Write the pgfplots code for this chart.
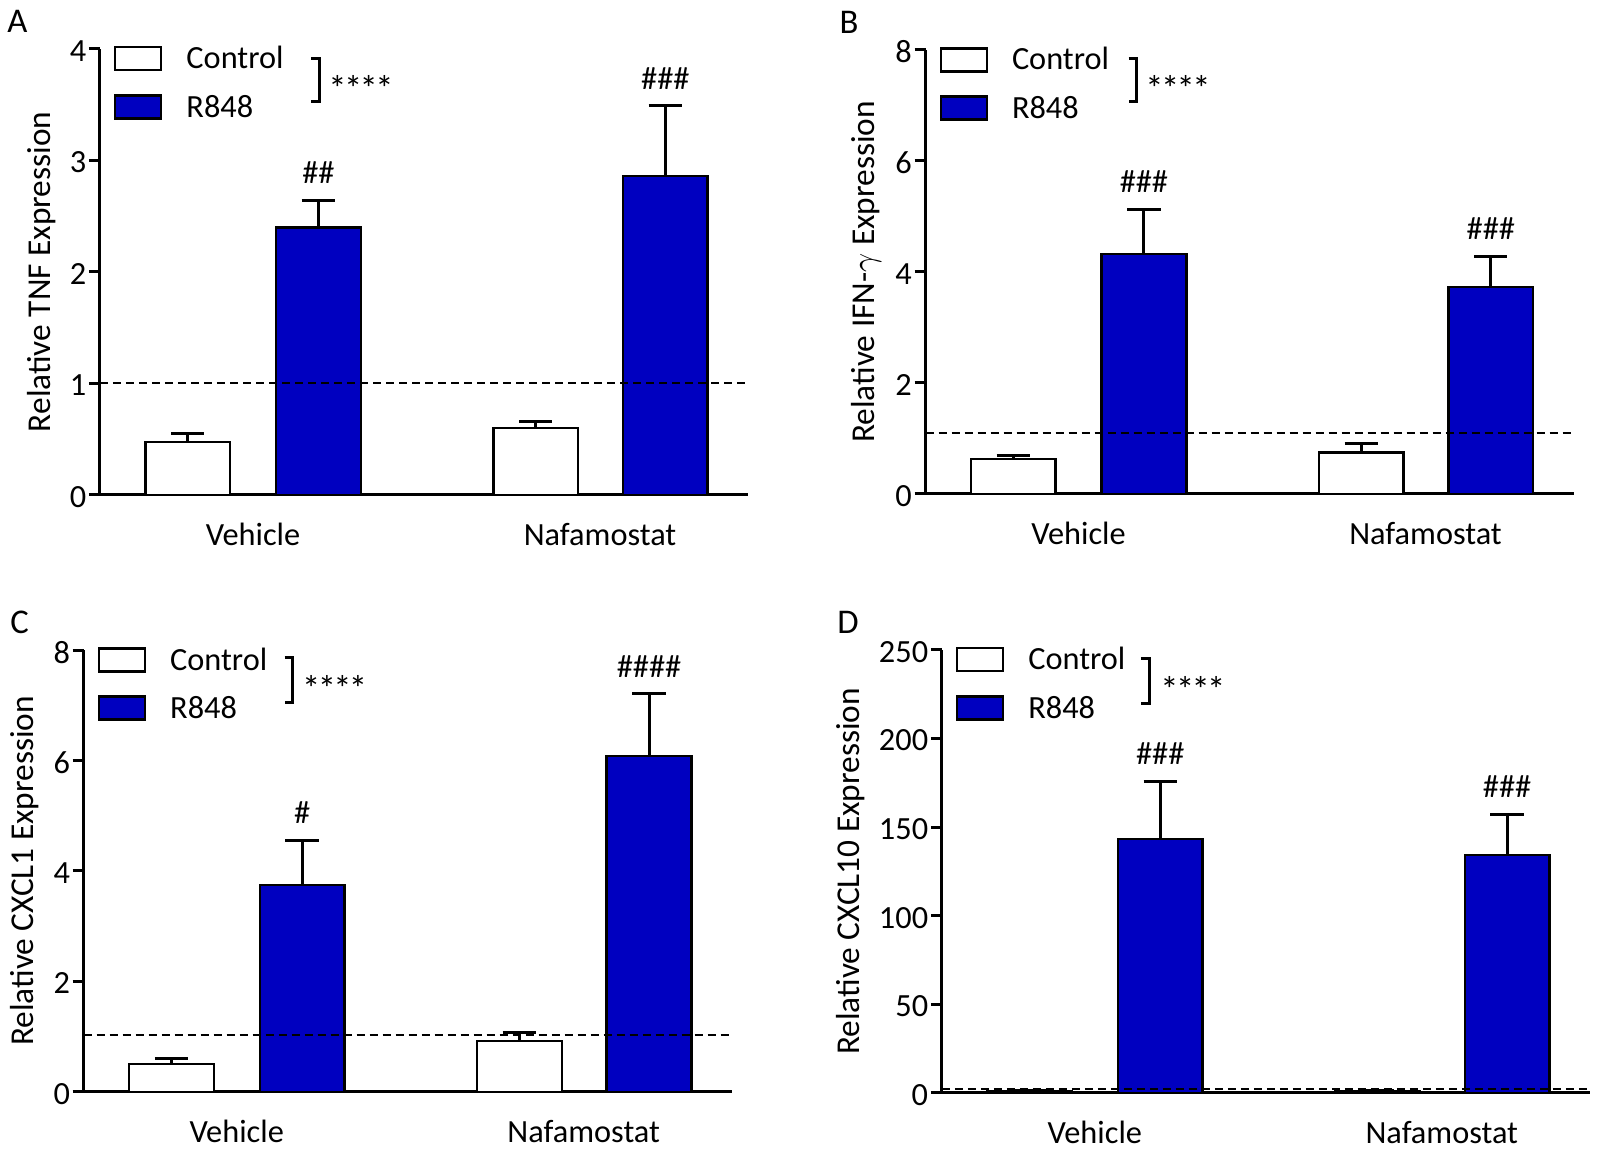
\documentclass[border=0pt]{standalone}
\usepackage{pgfplots}
\pgfplotsset{compat=1.18}
\usepackage{fontspec}
\setmainfont{Carlito}
\definecolor{barblue}{RGB}{0,0,192}
\pgfplotsset{
 panel/.style={
  scale only axis, width=194.4pt,
  xmin=0, xmax=648, ymin=0,
  axis x line=bottom, axis y line=left,
  axis line style={-, line width=0.9pt},
  xtick={153,500}, xticklabels={Vehicle,Nafamostat},
  xtick style={draw=none},
  ytick style={line width=0.9pt, black},
  tick align=outside, major tick length=3.3pt,
  xticklabel style={anchor=base, yshift=-11.8pt},
  yticklabel style={anchor=east, inner sep=0pt, xshift=-0.6pt, yshift=-0.6pt},
  ylabel style={font=\fontsize{10}{12}\selectfont},
  ylabel shift=0.8pt,
  /pgf/number format/assume math mode=true,
  clip=false,
  font=\fontsize{9.7}{11.6}\selectfont,
  legend style={draw=none, fill=none, at={(rel axis cs:0,1)}, anchor=north west,
    xshift=4.2pt, yshift=1.2pt, inner sep=0pt, outer sep=0pt, row sep=6.5pt,
    nodes={inner sep=0pt, text height=7.2pt, text depth=0pt},
    /tikz/every odd column/.append style={column sep=7.2pt}},
  legend cell align=left,
 },
 barsty/.style={ybar, bar width=84.7, bar shift=0pt, draw=black, line width=0.75pt,
  error bars/y dir=plus, error bars/y explicit,
  error bars/error mark options={rotate=90, mark size=5pt, line width=0.9pt, black},
  error bars/error bar style={line width=0.9pt, black}},
 ctrl/.style={barsty, fill=white,
  legend image code/.code={\draw[draw=black, fill=white, line width=0.75pt] (0pt,-4pt) rectangle (13.8pt,2.9pt);}},
 r848/.style={barsty, fill=barblue,
  legend image code/.code={\draw[draw=black, fill=barblue, line width=0.75pt] (0pt,-4pt) rectangle (13.8pt,2.9pt);}},
 refline/.style={forget plot, sharp plot, black, line width=0.6pt, dash pattern=on 2.4pt off 1.5pt},
}
\newcommand{\hashnode}[3]{\node[anchor=south, inner sep=0pt, yshift=4.8pt] at (axis cs:#1,#2) {#3};}
\newcommand{\stars}{{\fontsize{11}{13}\selectfont *\kern-0.8pt*\kern-0.8pt*\kern-0.8pt*}}
\begin{document}
\begin{tikzpicture}[font=\fontsize{9.7}{11.6}\selectfont]
\useasboundingbox (0pt,0pt) rectangle (480pt,-344.7pt);
% Panel A
\begin{axis}[panel, at={(30pt,-148.47pt)}, anchor=south west, height=133.8pt,
  ymax=4, ytick={0,1,2,3,4}, ylabel={Relative TNF Expression}]
\addplot[ctrl] coordinates {(87.8,0.476) +- (0,0.074) (435.7,0.60) +- (0,0.06)};
\addlegendentry{Control}
\addplot[r848] coordinates {(218.4,2.40) +- (0,0.24) (565.3,2.86) +- (0,0.63)};
\addlegendentry{R848}
\addplot[refline] coordinates {(0,1) (648,1)};
\hashnode{218.4}{2.64}{\#\#}
\hashnode{565.3}{3.49}{\#\#\#}
\end{axis}
% Panel B
\begin{axis}[panel, at={(277.65pt,-148.17pt)}, anchor=south west, height=133.2pt,
  ymax=8, ytick={0,2,4,6,8}, ylabel={Relative IFN-$\gamma$ Expression}]
\addplot[ctrl] coordinates {(87.8,0.625) +- (0,0.075) (435.7,0.75) +- (0,0.15)};
\addlegendentry{Control}
\addplot[r848] coordinates {(218.4,4.32) +- (0,0.81) (565.3,3.73) +- (0,0.55)};
\addlegendentry{R848}
\addplot[refline] coordinates {(0,1.10) (648,1.10)};
\hashnode{218.4}{5.13}{\#\#\#}
\hashnode{565.3}{4.28}{\#\#\#}
\end{axis}
% Panel C
\begin{axis}[panel, at={(25.11pt,-327.54pt)}, anchor=south west, height=132.5pt,
  ymax=8, ytick={0,2,4,6,8}, ylabel={Relative CXCL1 Expression}]
\addplot[ctrl] coordinates {(87.8,0.50) +- (0,0.11) (435.7,0.92) +- (0,0.15)};
\addlegendentry{Control}
\addplot[r848] coordinates {(218.4,3.75) +- (0,0.80) (565.3,6.08) +- (0,1.13)};
\addlegendentry{R848}
\addplot[refline] coordinates {(0,1.03) (648,1.03)};
\hashnode{218.4}{4.55}{\#}
\hashnode{565.3}{7.21}{\#\#\#\#}
\end{axis}
% Panel D
\begin{axis}[panel, at={(282.54pt,-327.87pt)}, anchor=south west, height=132.9pt,
  ymax=250, ytick={0,50,100,150,200,250}, ylabel={Relative CXCL10 Expression}]
\addplot[ctrl] coordinates {(87.8,1.0) +- (0,0.5) (435.7,1.0) +- (0,0.5)};
\addlegendentry{Control}
\addplot[r848] coordinates {(218.4,143.4) +- (0,32.3) (565.3,134.2) +- (0,23.1)};
\addlegendentry{R848}
\addplot[refline] coordinates {(0,2.3) (648,2.3)};
\hashnode{218.4}{175.7}{\#\#\#}
\hashnode{565.3}{157.3}{\#\#\#}
\end{axis}
\begin{scope}[x=0.3pt, y=-0.3pt]
% brackets and significance
\draw[line width=0.9pt] (311.2,58.2) -- (319.4,58.2) -- (319.4,102) -- (311.2,102);
\node[anchor=base, inner sep=0pt] at (361,102) {\stars};
\draw[line width=0.9pt] (1128.6,58.2) -- (1136.7,58.2) -- (1136.7,102) -- (1128.6,102);
\node[anchor=base, inner sep=0pt] at (1178,102) {\stars};
\draw[line width=0.9pt] (284.7,657.1) -- (292.9,657.1) -- (292.9,702) -- (284.7,702);
\node[anchor=base, inner sep=0pt] at (334.7,701) {\stars};
\draw[line width=0.9pt] (1140.8,658.2) -- (1149,658.2) -- (1149,703.1) -- (1140.8,703.1);
\node[anchor=base, inner sep=0pt] at (1192.9,702) {\stars};
% panel letters
\node[font=\fontsize{10.4}{12}\selectfont] at (17.5,21) {A};
\node[font=\fontsize{10.4}{12}\selectfont] at (849,22) {B};
\node[font=\fontsize{10.4}{12}\selectfont] at (19.5,622) {C};
\node[font=\fontsize{10.4}{12}\selectfont] at (848,622) {D};
\end{scope}
\end{tikzpicture}
\end{document}
